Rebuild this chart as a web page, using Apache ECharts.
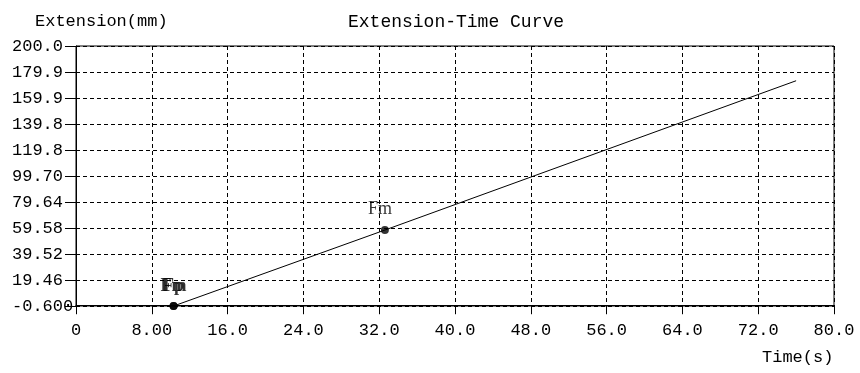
<!DOCTYPE html>
<html>
<head>
<meta charset="utf-8">
<script src="https://cdn.jsdelivr.net/npm/echarts@6/dist/echarts.min.js"></script>
<style>
  html, body { margin: 0; padding: 0; background: #fff; }
  #chart { width: 860px; height: 373px; }
</style>
</head>
<body>
<div id="chart"></div>
<script>
// curve samples (time in s, extension in mm)
const curveTime = [10.3, 32.6, 76.0];
const curveExt = [-0.6, 58.0, 173.2];

// characteristic points
const pointNames = ['Fp', 'Fm', 'Fm'];
const pointTime = [10.3, 10.3, 32.6];
const pointExt = [-0.6, -0.6, 58.0];

// tick labels as printed on the chart
const xTickLabels = ['0', '8.00', '16.0', '24.0', '32.0', '40.0', '48.0', '56.0', '64.0', '72.0', '80.0'];
const yTickLabels = ['-0.600', '19.46', '39.52', '59.58', '79.64', '99.70', '119.8', '139.8', '159.9', '179.9', '200.0'];

const FONT = 'Liberation Mono';
const textStyle = { fontFamily: FONT, fontSize: 17, color: '#000', fontWeight: 'normal' };

const chart = echarts.init(document.getElementById('chart'));

const option = {
  animation: false,
  backgroundColor: '#fff',
  title: [
    { text: 'Extension-Time Curve', left: 343, top: 8, textStyle: { ...textStyle, fontSize: 18 } },
    { text: 'Extension(mm)', left: 30, top: 8, textStyle },
    { text: 'Time(s)', left: 757, top: 344, textStyle },
  ],
  grid: {
    left: 76, right: 26, top: 46, bottom: 67,
    show: true, borderColor: '#000', borderWidth: 1,
  },
  xAxis: {
    type: 'value',
    min: 0,
    max: 80,
    interval: 8,
    axisLine: { show: true, lineStyle: { color: '#000', width: 1 } },
    axisTick: { show: true, length: 9, lineStyle: { color: '#000' } },
    axisLabel: {
      margin: 16,
      fontFamily: FONT, fontSize: 17, color: '#000',
      showMinLabel: true, showMaxLabel: true,
      formatter: (v) => xTickLabels[Math.round(v / 8)],
    },
    splitLine: { show: true, lineStyle: { color: '#000', type: [4, 3], width: 1 } },
  },
  yAxis: [
    {
      // data scale
      type: 'value',
      min: -0.6,
      max: 200,
      show: false,
    },
    {
      // printed ticks, 10 equal steps across the same height
      type: 'value',
      position: 'left',
      min: 0,
      max: 10,
      interval: 1,
      axisLine: { show: true, lineStyle: { color: '#000', width: 1 } },
      axisTick: { show: true, length: 11, lineStyle: { color: '#000' } },
      axisLabel: {
        margin: 64,
        align: 'left',
        fontFamily: FONT, fontSize: 17, color: '#000',
        showMinLabel: true, showMaxLabel: true,
        formatter: (v) => yTickLabels[Math.round(v)],
      },
      splitLine: { show: true, lineStyle: { color: '#000', type: [4, 3], width: 1 } },
    },
  ],
  series: [
    {
      type: 'line',
      yAxisIndex: 0,
      data: curveTime.map((t, i) => [t, curveExt[i]]),
      symbol: 'none',
      lineStyle: { color: '#000', width: 1 },
      z: 3,
    },
    {
      type: 'scatter',
      yAxisIndex: 0,
      symbol: 'circle',
      symbolSize: 8,
      itemStyle: { color: '#000' },
      data: pointTime.map((t, i) => ({
        value: [t, pointExt[i]],
        name: pointNames[i],
        label: i === 2
          ? { offset: [-5, -2] }
          : { offset: [0, -1], fontWeight: 'bold' },
      })),
      label: {
        show: true,
        position: 'top',
        distance: 6,
        formatter: (p) => p.name,
        fontFamily: 'Liberation Serif',
        fontSize: 18,
        color: '#000',
      },
      z: 4,
    },
  ],
};

chart.setOption(option);
</script>
</body>
</html>
